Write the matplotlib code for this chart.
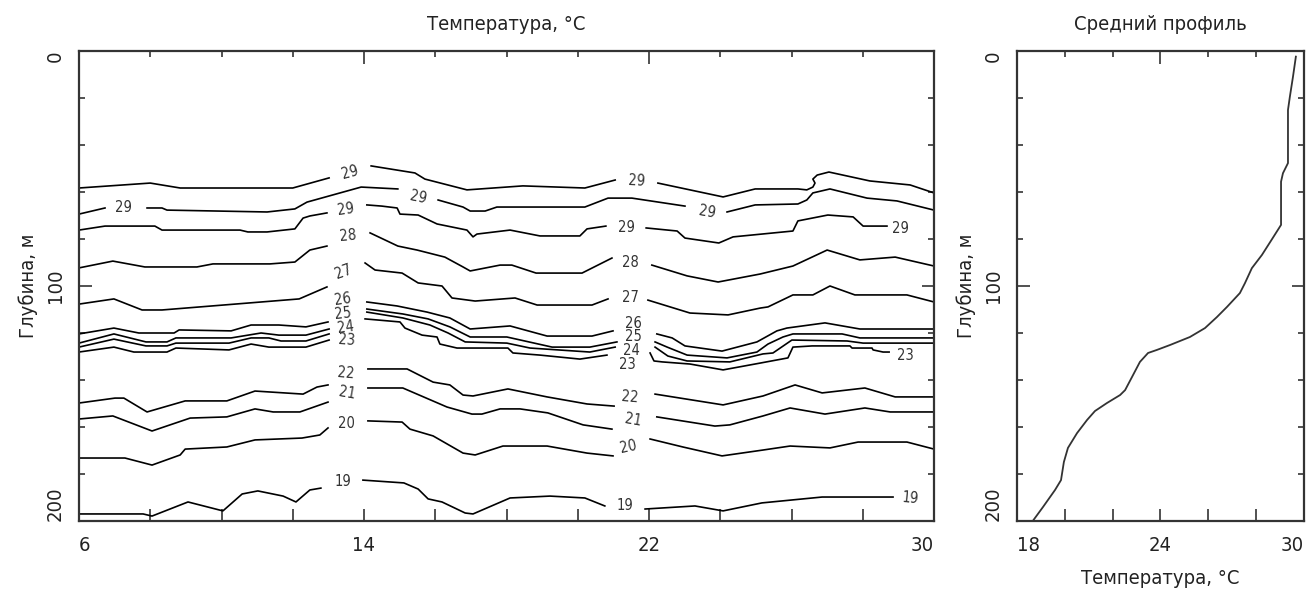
import numpy as np
import matplotlib
matplotlib.use("Agg")
import matplotlib.pyplot as plt

plt.rcParams['font.family'] = ['DejaVu Sans']
plt.rcParams['font.stretch'] = 'condensed'

nan = np.nan

# isotherm depths (m) along the section, nan = break for the label
t29a_x = [6.0, 8.0, 8.84, 12.0, 13.02, nan, 14.2, 15.43, 15.71, 16.89, 18.46, 20.2, 21.05, nan,
          22.25, 24.08, 24.98, 26.18, 26.43, 26.6, 26.66, 26.6, 26.72, 27.05, 28.2, 29.33, 30.0]
t29a_z = [58.3, 56.2, 58.3, 58.3, 54.0, nan, 48.9, 51.9, 54.5, 59.1, 57.4, 58.3, 54.9, nan,
          56.2, 62.1, 58.7, 58.7, 59.1, 57.9, 56.2, 54.5, 52.8, 51.5, 55.3, 57.0, 60.4]

t29b_x = [6.0, 6.73, nan, 7.91, 8.33, 8.47, 11.28, 12.06, 12.4, 13.92, 14.95, nan, 16.08, 16.78,
          16.98, 17.4, 17.73, 20.2, 20.85, 21.52, 23.01, nan, 24.19, 24.98, 26.18, 26.43, 26.6,
          27.08, 28.12, 28.96, 30.0]
t29b_z = [69.4, 66.8, nan, 66.8, 66.8, 67.7, 68.5, 67.2, 64.3, 57.9, 58.7, nan, 63.4, 66.4,
          68.1, 68.1, 66.4, 66.4, 62.6, 62.6, 66.0, nan, 68.5, 65.5, 65.1, 63.4, 60.4,
          58.7, 62.6, 63.8, 67.7]

t29c_x = [6.0, 6.73, 8.13, 8.33, 10.52, 10.74, 11.28, 12.06, 12.29, 12.48, 12.96, nan, 14.08,
          14.5, 14.93, 15.01, 15.52, 16.05, 16.89, 17.06, 17.17, 18.1, 18.94, 20.06, 20.26, 20.79,
          nan, 21.92, 22.79, 23.01, 23.96, 24.36, 26.04, 26.18, 27.02, 27.73, 28.01, 28.68]
t29c_z = [76.2, 74.5, 74.5, 76.2, 76.2, 77.0, 77.0, 75.7, 71.1, 70.2, 68.9, nan, 65.5,
          66.0, 66.8, 69.4, 69.8, 73.6, 76.2, 79.1, 77.9, 76.2, 78.7, 78.7, 75.7, 74.5,
          nan, 75.3, 76.6, 79.6, 81.7, 79.1, 76.6, 72.3, 69.8, 70.6, 74.5, 74.5]

t28_x = [6.0, 6.95, 7.85, 9.31, 9.76, 11.36, 12.06, 12.48, 12.96, nan, 14.17, 14.95, 15.49,
         16.27, 16.78, 16.98, 17.82, 18.15, 18.83, 20.12, 20.96, nan, 22.08, 23.07, 23.94,
         25.12, 26.04, 27.0, 27.92, 28.91, 30.0]
t28_z = [92.3, 89.4, 91.9, 91.9, 90.6, 90.6, 89.8, 84.7, 83.0, nan, 77.4, 83.0, 84.7,
         87.7, 91.9, 93.6, 91.1, 91.1, 94.5, 94.5, 88.1, nan, 91.1, 95.7, 98.3,
         94.9, 91.5, 84.7, 88.9, 87.7, 91.5]

t27_x = [6.0, 6.98, 7.77, 8.33, 12.18, 12.96, nan, 14.03, 14.31, 15.07, 15.52, 16.19, 16.47,
         17.12, 18.24, 18.86, 20.4, 20.85, nan, 21.97, 23.15, 24.22, 25.12, 25.34, 26.04,
         26.6, 27.08, 27.78, 29.24, 30.0]
t27_z = [107.7, 105.5, 110.2, 110.2, 105.5, 100.4, nan, 90.2, 93.2, 94.5, 98.7, 100.0, 105.1,
         106.4, 105.1, 108.1, 108.1, 105.5, nan, 106.0, 111.5, 112.3, 109.4, 108.9, 103.8,
         103.8, 100.0, 103.8, 103.8, 106.8]

t26_x = [6.0, 6.98, 7.68, 8.67, 8.81, 10.27, 10.83, 11.61, 12.37, 12.99, nan, 14.08, 14.93,
         15.77, 16.41, 16.98, 18.1, 19.14, 20.4, 20.99, nan, 22.22, 22.65, 23.01, 24.05,
         25.03, 25.59, 25.87, 26.94, 27.92, 30.0]
t26_z = [120.4, 117.9, 120.0, 120.0, 118.7, 119.1, 116.6, 116.6, 117.4, 115.3, nan, 106.8, 108.5,
         111.1, 113.6, 118.3, 117.0, 121.3, 121.3, 119.1, nan, 120.4, 122.1, 125.5, 127.7,
         123.8, 119.1, 117.9, 115.7, 118.3, 118.3]

t25_x = [6.0, 6.98, 7.88, 8.47, 8.72, 10.27, 11.11, 11.61, 12.37, 13.02, nan, 14.08, 15.09,
         15.8, 16.41, 16.98, 18.01, 19.28, 20.34, 21.1, nan, 22.17, 22.51, 23.07, 24.19,
         25.03, 25.34, 25.76, 26.04, 27.42, 27.92, 30.0]
t25_z = [124.3, 120.4, 123.8, 123.8, 122.1, 122.1, 120.0, 120.9, 120.9, 118.3, nan, 109.8, 111.9,
         114.0, 117.4, 121.7, 121.7, 126.0, 126.0, 123.8, nan, 123.8, 126.0, 129.4, 130.6,
         128.1, 124.7, 121.7, 120.4, 120.4, 122.1, 122.1]

t24_x = [6.0, 6.98, 7.88, 8.47, 8.72, 10.21, 10.83, 11.33, 11.67, 12.37, 13.02, nan, 14.08,
         15.09, 15.85, 16.36, 16.84, 18.01, 18.66, 20.34, 21.05, nan, 22.17, 22.53, 23.07,
         24.27, 25.2, 25.48, 26.01, 27.56, 28.01, 30.0]
t24_z = [126.0, 122.6, 125.5, 125.5, 124.3, 124.3, 122.1, 122.1, 123.4, 123.4, 120.4, nan, 111.1,
         113.6, 116.6, 120.0, 123.8, 124.3, 126.4, 128.1, 126.0, nan, 126.0, 129.8, 131.9,
         132.3, 128.9, 128.5, 123.0, 123.4, 124.3, 124.3]

t23_x = [6.0, 6.98, 7.54, 8.47, 8.72, 10.21, 10.83, 11.33, 12.37, 13.02, nan, 14.03, 15.01,
         15.15, 15.63, 16.05, 16.13, 16.61, 18.04, 18.18, 18.94, 20.06, 20.82, nan, 22.03,
         22.14, 22.37, 23.15, 24.08, 25.12, 25.9, 26.04, 26.58, 27.64, 27.7, 28.26, 28.29,
         28.57, 28.74]
t23_z = [128.1, 126.0, 128.1, 128.1, 126.4, 127.2, 124.7, 126.0, 126.0, 123.0, nan, 114.0, 115.3,
         117.9, 120.9, 121.7, 124.7, 126.4, 126.4, 128.5, 129.4, 131.1, 129.4, nan, 128.5,
         131.9, 132.3, 133.2, 135.7, 132.8, 130.6, 126.0, 125.5, 125.5, 126.4, 126.4, 127.2,
         128.1, 128.1]

t22_x = [6.0, 7.01, 7.26, 7.91, 8.98, 10.15, 10.94, 12.29, 12.68, 12.99, nan, 14.11, 15.21,
         15.94, 16.41, 16.78, 17.06, 18.04, 19.14, 20.26, 21.02, nan, 22.17, 24.08, 25.2,
         26.1, 26.86, 28.06, 28.91, 30.0]
t22_z = [149.8, 147.7, 147.7, 153.6, 148.9, 148.9, 144.7, 146.0, 143.0, 142.1, nan, 135.3, 135.3,
         140.9, 142.1, 146.4, 146.8, 143.8, 147.2, 150.2, 151.1, nan, 146.0, 150.6, 146.8,
         142.1, 145.5, 143.4, 147.2, 147.2]

t21_x = [6.0, 6.95, 8.05, 9.12, 10.15, 10.94, 11.45, 12.2, 12.99, nan, 14.11, 15.09, 16.33,
         17.03, 17.31, 17.82, 18.38, 19.16, 20.15, 20.96, nan, 22.22, 23.85, 24.27, 25.2,
         25.96, 26.94, 28.06, 28.77, 30.0]
t21_z = [156.6, 155.3, 161.7, 156.2, 155.7, 152.3, 153.6, 153.6, 149.4, nan, 143.4, 143.4, 151.5,
         154.5, 154.5, 152.3, 152.3, 154.0, 159.1, 160.9, nan, 155.7, 159.6, 159.1, 155.3,
         151.9, 154.5, 151.9, 153.6, 153.6]

t20_x = [6.0, 7.29, 8.05, 8.84, 8.98, 10.15, 10.94, 12.26, 12.76, 12.99, nan, 14.11, 15.07,
         15.29, 15.94, 16.78, 17.12, 17.9, 19.14, 20.26, 20.99, nan, 22.03, 22.95, 24.05,
         25.2, 25.96, 27.08, 27.87, 29.24, 30.0]
t20_z = [173.2, 173.2, 176.2, 171.9, 169.4, 168.5, 165.5, 164.7, 163.4, 160.4, nan, 157.4, 157.9,
         160.9, 163.8, 171.1, 171.9, 168.1, 168.1, 171.1, 172.3, nan, 165.1, 168.5, 172.3,
         169.8, 168.1, 168.9, 166.4, 166.4, 169.4]

t19_x = [6.0, 7.8, 8.05, 9.06, 10.04, 10.58, 11.02, 11.73, 12.09, 12.48, 12.79, nan, 13.97,
         15.12, 15.52, 15.8, 16.19, 16.84, 17.06, 18.1, 19.22, 20.2, 20.76, nan, 21.89,
         23.29, 24.08, 25.17, 26.86, 28.85]
t19_z = [197.0, 197.0, 197.9, 191.9, 195.7, 188.5, 187.2, 189.4, 191.9, 186.8, 186.0, nan, 182.6,
         183.8, 186.4, 190.6, 191.9, 196.6, 197.0, 190.2, 189.4, 190.2, 193.6, nan, 194.9,
         193.6, 195.7, 192.3, 189.8, 189.8]

isolines = [(t29a_x, t29a_z), (t29b_x, t29b_z), (t29c_x, t29c_z), (t28_x, t28_z),
            (t27_x, t27_z), (t26_x, t26_z), (t25_x, t25_z), (t24_x, t24_z),
            (t23_x, t23_z), (t22_x, t22_z), (t21_x, t21_z), (t20_x, t20_z),
            (t19_x, t19_z)]

# isotherm labels: value, x, depth, angle
iso_labels = [
    (29, 13.61, 51.9, 15), (29, 21.64, 55.3, -3),
    (29, 7.24, 66.8, 0), (29, 15.52, 62.1, -12), (29, 23.63, 68.5, -10),
    (29, 13.49, 67.2, 8), (29, 21.38, 75.3, 0), (29, 29.05, 75.7, 0),
    (28, 13.55, 78.7, 5), (28, 21.49, 89.8, 0),
    (27, 13.41, 94.0, 20), (27, 21.47, 105.1, 0),
    (26, 13.41, 105.8, 8), (26, 21.55, 115.8, 0),
    (25, 13.41, 111.6, 6), (25, 21.55, 121.7, 0),
    (24, 13.49, 117.4, 8), (24, 21.52, 127.6, 0),
    (23, 13.52, 123.2, -4), (23, 21.38, 133.5, 0), (23, 29.19, 129.4, 0),
    (22, 13.49, 137.0, -5), (22, 21.47, 147.2, -5),
    (21, 13.52, 145.5, -10), (21, 21.55, 157.0, -10),
    (20, 13.52, 158.7, 0), (20, 21.41, 168.5, 12),
    (19, 13.41, 183.4, 0), (19, 21.33, 193.6, 0), (19, 29.33, 190.2, -5),
]

# mean temperature profile
mean_t = [29.66, 29.54, 29.41, 29.33, 29.33, 29.12, 29.04, 29.04, 28.66, 28.24, 27.82, 27.53,
          27.32, 26.78, 26.36, 25.86, 25.23, 24.4, 23.85, 23.48, 23.14, 22.81, 22.52, 22.31,
          21.76, 21.26, 20.93, 20.51, 20.13, 19.96, 19.84, 19.59, 19.09, 18.63]
mean_z = [2.4, 10.9, 19.4, 25.1, 47.7, 52.0, 55.6, 74.0, 80.1, 86.8, 92.4, 98.8,
          103.0, 108.9, 113.2, 117.9, 121.7, 125.1, 127.2, 128.5, 132.3, 138.7, 144.3, 146.4,
          149.8, 153.2, 157.0, 162.6, 168.9, 174.9, 182.6, 186.8, 194.0, 200.4]

sect_ticks = [6, 14, 22, 30]
prof_ticks = [18, 24, 30]
depth_ticks = [0, 100, 200]

ink = '#222222'
fig = plt.figure(figsize=(13.06, 5.91), dpi=100)
ax = fig.add_axes([79 / 1306, 70 / 591, 855 / 1306, 470 / 591])
ax2 = fig.add_axes([1017 / 1306, 70 / 591, 287 / 1306, 470 / 591])

for xs, zs in isolines:
    ax.plot(xs, zs, color='black', lw=1.2)
for val, x, z, rot in iso_labels:
    ax.text(x, z, str(val), fontsize=10.5, color='#333333', rotation=rot,
            ha='center', va='center')

ax2.plot(mean_t, mean_z, color='#333333', lw=1.3)


def style_axes(a, xlim, xmaj, xminor_step):
    a.set_xlim(*xlim)
    a.set_ylim(200, 0)
    a.set_xticks(xmaj)
    a.set_xticks(np.arange(xlim[0], xlim[1] + 0.1, xminor_step), minor=True)
    a.set_yticks(depth_ticks)
    a.set_yticks(np.arange(0, 201, 20), minor=True)
    a.tick_params(which='both', direction='in', top=True, right=True,
                  width=1.2, color='#333333', labelcolor=ink, labelsize=14.5)
    a.tick_params(which='major', length=9)
    a.tick_params(which='minor', length=4.5)
    a.tick_params(axis='x', which='both', pad=11)
    a.tick_params(axis='y', which='both', pad=10)
    for s in a.spines.values():
        s.set_linewidth(1.6)
        s.set_color('#333333')
    # bottom ticks are all long, top minor ticks short
    a.xaxis.set_tick_params(which='minor', length=9)
    for t in a.xaxis.get_minor_ticks():
        t.tick2line.set_markersize(4.5)
    labs = a.set_xticklabels([str(v) for v in xmaj])
    labs[0].set_ha('left')
    labs[-1].set_ha('right')
    ylabs = a.set_yticklabels([str(v) for v in depth_ticks], rotation=90)
    ylabs[0].set_va('top')
    ylabs[1].set_va('center')
    ylabs[-1].set_va('bottom')
    a.set_ylabel('Глубина, м', fontsize=14.5, color=ink, labelpad=6)


style_axes(ax, (6, 30), sect_ticks, 2)
style_axes(ax2, (18, 30), prof_ticks, 2)

ax.set_title('Температура, °C', fontsize=14.5, color=ink, pad=15)
ax2.set_title('Средний профиль', fontsize=14.5, color=ink, pad=15)
ax2.set_xlabel('Температура, °C', fontsize=14.5, color=ink, labelpad=10)

fig.savefig('out.png', dpi=100)
